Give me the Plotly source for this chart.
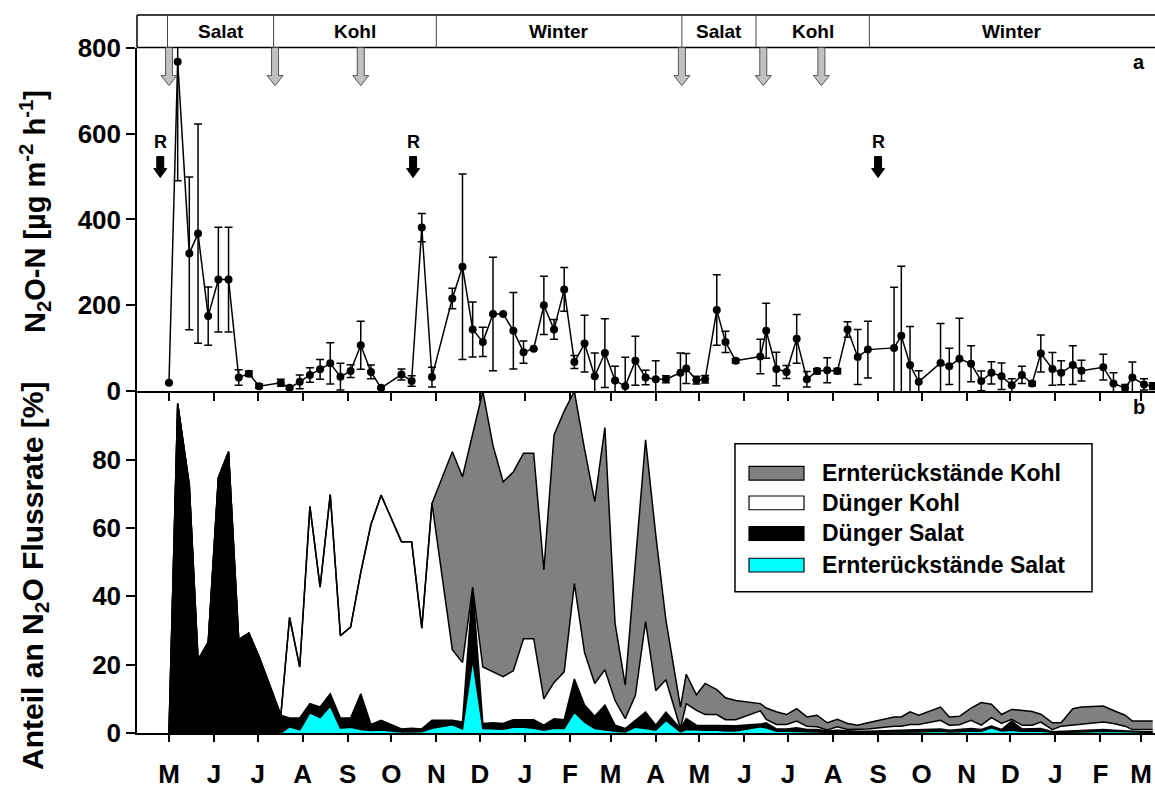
import plotly.graph_objects as go
import pandas as pd

# ---------------- data ----------------
dates = [
    "2004-05-01", "2004-05-07", "2004-05-15", "2004-05-21", "2004-05-28", "2004-06-04", "2004-06-11",
    "2004-06-18", "2004-06-25", "2004-07-02", "2004-07-17", "2004-07-23", "2004-07-30", "2004-08-06",
    "2004-08-13", "2004-08-20", "2004-08-27", "2004-09-03", "2004-09-10", "2004-09-17", "2004-09-24",
    "2004-10-08", "2004-10-15", "2004-10-22", "2004-10-29", "2004-11-12", "2004-11-19", "2004-11-26",
    "2004-12-03", "2004-12-10", "2004-12-17", "2004-12-24", "2004-12-31", "2005-01-07", "2005-01-14",
    "2005-01-21", "2005-01-28", "2005-02-04", "2005-02-11", "2005-02-18", "2005-02-25", "2005-03-04",
    "2005-03-11", "2005-03-18", "2005-03-25", "2005-04-01", "2005-04-08", "2005-04-18", "2005-04-22",
    "2005-04-29", "2005-05-05", "2005-05-13", "2005-05-19", "2005-05-26", "2005-06-12", "2005-06-16",
    "2005-06-23", "2005-06-30", "2005-07-07", "2005-07-14", "2005-07-21", "2005-07-28", "2005-08-04",
    "2005-08-11", "2005-08-18", "2005-08-25", "2005-09-12", "2005-09-17", "2005-09-23", "2005-09-29",
    "2005-10-14", "2005-10-20", "2005-10-27", "2005-11-04", "2005-11-11", "2005-11-18", "2005-11-25",
    "2005-12-02", "2005-12-09", "2005-12-16", "2005-12-22", "2005-12-30", "2006-01-05", "2006-01-13",
    "2006-01-19", "2006-02-03", "2006-02-10", "2006-02-18", "2006-02-23", "2006-03-03", "2006-03-09",
]

n2o = [
    20, 767, 321, 367, 175, 260, 260, 32, 41, 12, 20, 8, 22, 38, 51, 65, 34, 47, 107, 45, 8,
    39, 24, 381, 33, 216, 290, 144, 115, 180, 180, 141, 91, 99, 200, 144, 237, 68, 111, 35, 89,
    25, 12, 71, 32, 28, 28, 43, 53, 26, 28, 189, 115, 71, 81, 141, 52, 45, 122, 28, 47, 49, 47,
    144, 80, 97, 101, 129, 61, 22, 66, 58, 76, 64, 24, 43, 35, 14, 38, 18, 88, 52, 43, 61, 48,
    56, 18, 8, 32, 16, 12,
]
n2o_err = [
    0, 277, 178, 255, 68, 122, 122, 18, 6, 5, 8, 3, 16, 17, 23, 48, 31, 15, 56, 16, 3,
    13, 12, 33, 23, 24, 216, 64, 34, 132, 0, 89, 26, 0, 68, 23, 51, 15, 66, 54, 80,
    33, 67, 57, 17, 43, 8, 46, 35, 9, 9, 82, 25, 5, 40, 64, 39, 15, 57, 18, 6, 29, 6,
    18, 64, 66, 141, 162, 90, 26, 92, 42, 94, 42, 23, 26, 31, 15, 20, 5, 43, 38, 28, 45, 24,
    30, 25, 8, 36, 13, 8,
]

# share of N2O flux rate [%] per source (stacked from bottom)
ern_salat = [
    0, 0, 0, 0, 0, 0, 0, 0, 0, 0, 0, 1.8, 0.9, 5.9, 4.5, 7.9, 1.4, 1.7, 1.0, 0.7, 0.9,
    0.3, 0.3, 0.4, 1.4, 2.4, 1.2, 21.5, 1.3, 1.1, 1.1, 1.7, 1.7, 1.4, 0.8, 1.4, 1.3, 6.1, 3.2, 1.3, 0.8,
    0.5, 0.3, 1.7, 1.3, 0.8, 3.7, 0.3, 1.0, 0.8, 0.8, 0.8, 0.6, 0.6, 1.8, 1.5, 0.5, 0.5, 0.5, 0.3, 0.3,
    0.2, 0.3, 0.2, 0.2, 0.2, 0.3, 0.3, 0.4, 0.3, 0.5, 0.3, 0.4, 0.6, 0.5, 1.5, 0.6, 0.8, 0.5, 0.5, 0.6,
    0.2, 0.2, 0.3, 0.3, 0.5, 0.4, 0.3, 0.2, 0.2, 0.2,
]
dung_salat = [
    0, 96.4, 72.5, 21.4, 26.5, 74.7, 82.3, 27.3, 29.2, 22.3, 5.2, 2.6, 3.5, 2.7, 3.1, 3.6, 3.0, 2.7, 10.5, 1.8, 2.8,
    0.9, 1.1, 0.8, 2.3, 1.3, 2.0, 21.2, 1.5, 1.9, 1.7, 2.2, 2.2, 2.5, 1.5, 2.8, 2.6, 9.7, 5.0, 3.6, 7.4,
    1.8, 1.0, 2.0, 4.8, 1.5, 2.4, 1.0, 3.2, 1.5, 1.5, 1.5, 1.5, 1.5, 0.8, 1.5, 0.7, 0.7, 1.0, 0.7, 0.7,
    0.4, 0.5, 0.4, 0.3, 0.3, 0.5, 0.5, 0.6, 0.6, 0.7, 0.5, 0.6, 0.7, 0.5, 0.5, 0.4, 2.7, 0.7, 0.7, 0.7,
    0.2, 0.3, 0.4, 0.4, 0.5, 0.4, 0.3, 0.2, 0.2, 0.2,
]
dung_kohl = [
    0, 0, 0, 0, 0, 0, 0, 0, 0, 0, 0, 29.4, 14.9, 57.7, 35.1, 58.3, 24.1, 26.6, 35.5, 58.5, 65.9,
    54.8, 54.6, 29.5, 63.5, 20.7, 17.4, 0, 16.5, 14.9, 13.7, 14.3, 23.7, 23.7, 7.7, 10.6, 14.0, 27.9, 15.3, 9.6, 10.3,
    7.2, 2.9, 7.3, 26.5, 10.1, 9.5, 0, 4.4, 4.3, 3.1, 3.1, 1.8, 1.8, 3.9, 1.0, 1.3, 1.3, 2.0, 1.0, 0.8,
    0.3, 1.0, 0.4, 0.5, 0.7, 1.2, 1.2, 1.5, 1.6, 2.5, 1.5, 1.4, 2.4, 1.3, 2.5, 1.8, 0.5, 1.1, 1.1, 1.9,
    0.6, 1.5, 1.6, 1.8, 2.2, 2.0, 1.4, 0.6, 0.6, 0.6,
]
ern_kohl = [
    0, 0, 0, 0, 0, 0, 0, 0, 0, 0, 0, 0, 0, 0, 0, 0, 0, 0, 0, 0, 0,
    0, 0, 0, 0, 57.9, 54.4, 44.8, 80.7, 66.2, 57.0, 58.2, 54.3, 54.3, 37.7, 72.4, 76.3, 56.3, 59.6, 53.2, 70.9,
    22.6, 9.8, 39.0, 53.2, 45.6, 17.4, 6.3, 8.6, 4.6, 9.1, 7.3, 6.4, 5.6, 2.1, 3.3, 3.7, 2.9, 3.6, 2.7, 3.4,
    2.1, 2.2, 1.8, 1.3, 1.8, 2.7, 2.7, 3.7, 2.7, 3.9, 2.4, 2.5, 3.6, 6.6, 3.9, 2.6, 2.9, 4.2, 4.0, 2.3,
    2.0, 1.0, 4.8, 5.1, 4.7, 3.8, 3.2, 2.5, 2.5, 2.5,
]

series_names = ["Ernterückstände Salat", "Dünger Salat", "Dünger Kohl", "Ernterückstände Kohl"]
series_colors = ["#00ffff", "#000000", "#ffffff", "#808080"]

month_ticks = [
    "2004-05-01", "2004-06-01", "2004-07-01", "2004-08-01", "2004-09-01", "2004-10-01", "2004-11-01",
    "2004-12-01", "2005-01-01", "2005-02-01", "2005-03-01", "2005-04-01", "2005-05-01", "2005-06-01",
    "2005-07-01", "2005-08-01", "2005-09-01", "2005-10-01", "2005-11-01", "2005-12-01", "2006-01-01",
    "2006-02-01", "2006-03-01",
]
month_labels = ["M", "J", "J", "A", "S", "O", "N", "D", "J", "F", "M", "A",
                "M", "J", "J", "A", "S", "O", "N", "D", "J", "F", "M"]

fert_dates = ["2004-05-01", "2004-07-13", "2004-09-10", "2005-04-19", "2005-06-14", "2005-07-24"]
r_dates = ["2004-04-25", "2004-10-16", "2005-09-01"]
season_bounds = ["2004-04-30", "2004-07-12", "2004-11-01", "2005-04-19", "2005-06-09", "2005-08-26"]
season_labels = ["Salat", "Kohl", "Winter", "Salat", "Kohl", "Winter"]
x_range = ["2004-04-09", "2006-03-10 14:00"]

# ---------------- figure ----------------
FONT = "Liberation Sans, Arial, sans-serif"
TOP_LO, TOP_HI = 0.47593, 0.95461

fig = go.Figure()

fig.add_trace(go.Scatter(
    x=dates, y=n2o, mode="lines+markers", xaxis="x", yaxis="y",
    line=dict(color="black", width=1.5),
    marker=dict(size=8, color="black"),
    error_y=dict(type="data", array=n2o_err, color="black", thickness=1.5, width=4),
    showlegend=False,
))

for name, vals, col in zip(series_names, [ern_salat, dung_salat, dung_kohl, ern_kohl], series_colors):
    fig.add_trace(go.Scatter(
        x=dates, y=vals, mode="lines", stackgroup="one", xaxis="x2", yaxis="y2",
        line=dict(color="black", width=1.5), fillcolor=col, name=name, showlegend=False,
    ))

axis_common = dict(showgrid=False, zeroline=False, showline=True, linecolor="black", linewidth=1.5,
                   ticks="outside", tickcolor="black", tickwidth=1.5)

fig.update_layout(
    width=1155, height=789,
    margin=dict(l=137, r=0, t=11, b=51),
    paper_bgcolor="white", plot_bgcolor="white",
    font=dict(family=FONT, color="black", size=20, weight="bold"),
    xaxis=dict(domain=[0, 1], anchor="y", type="date", range=x_range, tickvals=month_ticks,
               showticklabels=False, ticklen=8, **axis_common),
    yaxis=dict(domain=[TOP_LO, TOP_HI], anchor="x", range=[0, 800], tickvals=[0, 200, 400, 600, 800],
               ticklen=9, tickfont=dict(size=26, family=FONT, weight="bold"), **axis_common),
    xaxis2=dict(domain=[0, 1], anchor="y2", type="date", range=x_range, matches="x",
                tickvals=month_ticks, ticktext=month_labels, ticklen=7, ticklabelstandoff=10,
                tickfont=dict(size=26, family=FONT, weight="bold"), **axis_common),
    yaxis2=dict(domain=[0, TOP_LO], anchor="x2", range=[0, 100], tickvals=[0, 20, 40, 60, 80],
                ticklen=9, tickfont=dict(size=26, family=FONT, weight="bold"), **axis_common),
)

shapes = []
annotations = []

# header band
shapes.append(dict(type="line", xref="paper", yref="paper", x0=0, x1=1, y0=1, y1=1,
                   line=dict(color="black", width=1.5)))
shapes.append(dict(type="line", xref="paper", yref="paper", x0=0, x1=1, y0=TOP_HI, y1=TOP_HI,
                   line=dict(color="black", width=1.5)))
shapes.append(dict(type="line", xref="paper", yref="paper", x0=0, x1=0, y0=TOP_HI, y1=1,
                   line=dict(color="black", width=1.5)))
for b in season_bounds:
    shapes.append(dict(type="line", xref="x", yref="paper", x0=b, x1=b, y0=TOP_HI, y1=1,
                       line=dict(color="#444444", width=1)))
bounds_ts = [pd.Timestamp(b) for b in season_bounds] + [pd.Timestamp(x_range[1])]
for i, lab in enumerate(season_labels):
    mid = bounds_ts[i] + (bounds_ts[i + 1] - bounds_ts[i]) / 2
    annotations.append(dict(x=mid.strftime("%Y-%m-%d %H:%M"), xref="x", y=(TOP_HI + 1) / 2, yref="paper",
                            xanchor="center", yanchor="middle",
                            text=lab, showarrow=False, font=dict(size=19, family=FONT, weight="bold")))

# fertilisation arrows (grey)
for d in fert_dates:
    shapes.append(dict(type="path", xref="x", yref="y", xsizemode="pixel", ysizemode="pixel",
                       xanchor=d, yanchor=800,
                       path="M-3.5,0 L3.5,0 L3.5,-28 L8,-28 L0,-38 L-8,-28 L-3.5,-28 Z",
                       fillcolor="#c0c0c0", line=dict(color="#555555", width=1)))

# R arrows (black)
for d in r_dates:
    shapes.append(dict(type="path", xref="x", yref="y", xsizemode="pixel", ysizemode="pixel",
                       xanchor=d, yanchor=800,
                       path="M-3.5,-109 L3.5,-109 L3.5,-121 L6.5,-121 L0,-130 L-6.5,-121 L-3.5,-121 Z",
                       fillcolor="black", line=dict(color="black", width=1)))
    annotations.append(dict(x=d, xref="x", y=800, yref="y", yshift=-94, text="R", showarrow=False,
                            xanchor="center", yanchor="middle",
                            font=dict(size=18, family=FONT, weight="bold")))

# panel letters
annotations.append(dict(x=0.984, y=0.934, xref="paper", yref="paper", text="a", showarrow=False,
                        xanchor="center", yanchor="middle",
                        font=dict(size=20, family=FONT, weight="bold")))
annotations.append(dict(x=0.984, y=0.454, xref="paper", yref="paper", text="b", showarrow=False,
                        xanchor="center", yanchor="middle",
                        font=dict(size=20, family=FONT, weight="bold")))

# axis titles
annotations.append(dict(x=-0.1002, y=0.727, xref="paper", yref="paper", textangle=-90, showarrow=False,
                        xanchor="center", yanchor="middle",
                        text="N<sub>2</sub>O-N [µg m<sup>-2</sup> h<sup>-1</sup>]",
                        font=dict(size=29, family=FONT, weight="bold")))
annotations.append(dict(x=-0.1002, y=0.2187, xref="paper", yref="paper", textangle=-90, showarrow=False,
                        xanchor="center", yanchor="middle",
                        text="Anteil an N<sub>2</sub>O Flussrate [%]",
                        font=dict(size=30, family=FONT, weight="bold")))

# custom legend
shapes.append(dict(type="rect", xref="paper", yref="paper", x0=0.5874, x1=0.9381, y0=0.1967, y1=0.4030,
                   fillcolor="white", line=dict(color="black", width=1.5)))
legend_rows = [0.3618, 0.3205, 0.2779, 0.2338]
for yrow, name, col in zip(legend_rows, series_names[::-1], series_colors[::-1]):
    shapes.append(dict(type="rect", xref="paper", yref="paper", x0=0.6012, x1=0.6552,
                       y0=yrow - 0.0096, y1=yrow + 0.0096, fillcolor=col, line=dict(color="black", width=1.2)))
    annotations.append(dict(x=0.6709, y=yrow, xref="paper", yref="paper", xanchor="left", yanchor="middle",
                            text=name, showarrow=False, font=dict(size=23, family=FONT, weight="bold")))

fig.update_layout(shapes=shapes, annotations=annotations)

fig.write_html("out.html")
